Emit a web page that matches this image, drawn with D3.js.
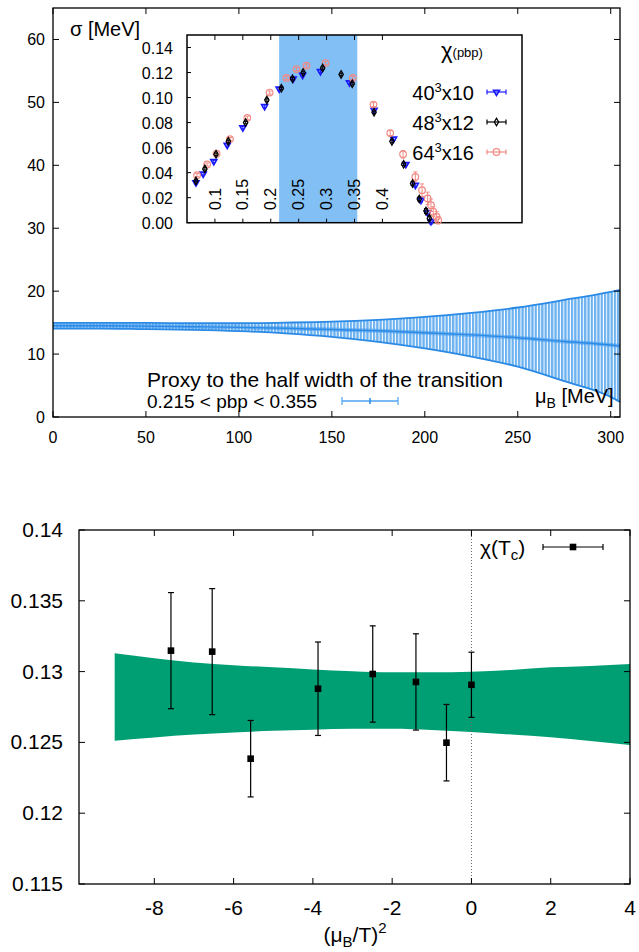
<!DOCTYPE html>
<html><head><meta charset="utf-8">
<script src="https://cdn.jsdelivr.net/npm/d3@7"></script>
<style>
body{margin:0;background:#fff}
svg{display:block}
text{font-family:"Liberation Sans",Arial,Helvetica,sans-serif;fill:#000}
</style>
</head><body>
<svg id="c" width="639" height="952"></svg>
<script>
// ---------- Top panel: sigma vs muB band ----------
const muB        = [0, 25, 50, 75, 100, 125, 150, 175, 200, 225, 250, 275, 300, 305];
const sigmaCenter= [14.5, 14.5, 14.45, 14.35, 14.25, 14.1, 13.9, 13.7, 13.4, 13.05, 12.6, 12.0, 11.45, 11.3];
const sigmaUpper = [14.95, 14.95, 14.95, 14.9, 14.9, 15.0, 15.15, 15.45, 15.9, 16.55, 17.4, 18.6, 19.9, 20.2];
const sigmaLower = [14.05, 14.05, 13.95, 13.85, 13.65, 13.3, 12.75, 11.95, 10.9, 9.6, 8.0, 5.7, 3.2, 2.4];
const mainXTicks = [0, 50, 100, 150, 200, 250, 300];
const mainYTicks = [0, 10, 20, 30, 40, 50, 60];

// ---------- Inset: chi(pbp) ----------
const insetXTicks = [0.1, 0.15, 0.2, 0.25, 0.3, 0.35, 0.4];
const insetXTickLabels = ["0.1", "0.15", "0.2", "0.25", "0.3", "0.35", "0.4"];
const insetYTicks = [0, 0.02, 0.04, 0.06, 0.08, 0.10, 0.12, 0.14];
const proxyRange = [0.215, 0.355];

const s40x = [0.066, 0.079, 0.098, 0.122, 0.150, 0.189, 0.215, 0.240, 0.257, 0.289, 0.341, 0.385, 0.420, 0.442, 0.459, 0.469, 0.481, 0.487];
const s40y = [0.032, 0.039, 0.049, 0.062, 0.076, 0.093, 0.107, 0.115, 0.118, 0.121, 0.112, 0.090, 0.067, 0.0467, 0.030, 0.018, 0.008, 0.001];
const s40e = [0.001, 0.001, 0.001, 0.001, 0.001, 0.001, 0.001, 0.001, 0.001, 0.001, 0.001, 0.001, 0.001, 0.001, 0.0015, 0.0015, 0.002, 0.002];

const s48x = [0.066, 0.082, 0.102, 0.124, 0.155, 0.193, 0.219, 0.239, 0.258, 0.293, 0.326, 0.346, 0.385, 0.417, 0.438, 0.454, 0.466, 0.478, 0.484];
const s48y = [0.0334, 0.043, 0.0547, 0.065, 0.080, 0.098, 0.1074, 0.115, 0.120, 0.1236, 0.1185, 0.111, 0.0883, 0.065, 0.0467, 0.0313, 0.0189, 0.0093, 0.0035];
const s48e = [0.001, 0.001, 0.001, 0.001, 0.001, 0.001, 0.001, 0.001, 0.001, 0.001, 0.001, 0.001, 0.001, 0.001, 0.001, 0.0015, 0.0015, 0.002, 0.002];

const s64x = [0.068, 0.086, 0.103, 0.127, 0.158, 0.198, 0.228, 0.246, 0.264, 0.298, 0.347, 0.384, 0.414, 0.437, 0.459, 0.471, 0.481, 0.487, 0.491, 0.497, 0.500];
const s64y = [0.038, 0.0465, 0.0552, 0.0668, 0.0838, 0.104, 0.1157, 0.1228, 0.1255, 0.1276, 0.1157, 0.0944, 0.0716, 0.0547, 0.0366, 0.026, 0.0194, 0.014, 0.0088, 0.0048, 0.002];
const s64e = [0.0012, 0.0012, 0.0012, 0.0012, 0.0012, 0.0012, 0.0012, 0.0012, 0.0012, 0.0012, 0.0012, 0.0015, 0.002, 0.003, 0.004, 0.005, 0.005, 0.005, 0.004, 0.004, 0.003];

// ---------- Bottom panel: chi(Tc) vs (muB/T)^2 ----------
const chiX   = [-7.58, -6.54, -5.57, -3.87, -2.49, -1.40, -0.63, 0.0];
const chiY   = [0.13148, 0.13141, 0.12385, 0.12879, 0.12983, 0.12927, 0.12498, 0.12907];
const chiErr = [0.0041, 0.00445, 0.0027, 0.0033, 0.0034, 0.0034, 0.0027, 0.0023];
const bandX     = [-9, -8, -7, -6, -5, -4, -3, -2, -1, 0, 1, 2, 3, 4];
const bandUpper = [0.13129, 0.13095, 0.13065, 0.13045, 0.1303, 0.13015, 0.13003, 0.12995, 0.12995, 0.12999, 0.13012, 0.1303, 0.1304, 0.13054];
const bandLower = [0.12512, 0.12535, 0.12555, 0.1257, 0.12582, 0.1259, 0.12597, 0.12597, 0.12588, 0.12573, 0.12556, 0.12536, 0.1251, 0.12482];
const botXTicks = [-8, -6, -4, -2, 0, 2, 4];
const botYTicks = [0.115, 0.12, 0.125, 0.13, 0.135, 0.14];

const svg = d3.select("#c");
const defs = svg.append("defs");
const pat = defs.append("pattern").attr("id","stripes").attr("patternUnits","userSpaceOnUse")
  .attr("width",3.3).attr("height",10);
pat.append("rect").attr("width",3.3).attr("height",10).attr("fill","#ffffff");
pat.append("rect").attr("width",2.3).attr("height",10).attr("fill","#6cb2f0");

function frame(g, x0, y0, x1, y1, sw){
  g.append("rect").attr("x",x0).attr("y",y0).attr("width",x1-x0).attr("height",y1-y0)
   .attr("fill","none").attr("stroke","#000").attr("stroke-width",sw||1.3);
}
function ticks(g, xs, ys, xt, yt, len, mirror){
  const [x0,x1]=xs.range(), [y0,y1]=ys.range();
  xt.forEach(t=>{
    const px=xs(t);
    g.append("line").attr("x1",px).attr("x2",px).attr("y1",y0).attr("y2",y0-len).attr("stroke","#000");
    if(mirror) g.append("line").attr("x1",px).attr("x2",px).attr("y1",y1).attr("y2",y1+len).attr("stroke","#000");
  });
  yt.forEach(t=>{
    const py=ys(t);
    g.append("line").attr("x1",x0).attr("x2",x0+len).attr("y1",py).attr("y2",py).attr("stroke","#000");
    if(mirror) g.append("line").attr("x1",x1).attr("x2",x1-len).attr("y1",py).attr("y2",py).attr("stroke","#000");
  });
}

// ===== TOP PANEL =====
const topG = svg.append("g");
const xM = d3.scaleLinear().domain([0,305]).range([53,620]);
const yM = d3.scaleLinear().domain([0,65]).range([417,8]);
const bandIdx = d3.range(muB.length);
const area = d3.area().x(i=>xM(muB[i])).y0(i=>yM(sigmaLower[i])).y1(i=>yM(sigmaUpper[i])).curve(d3.curveMonotoneX);
topG.append("path").attr("d",area(bandIdx)).attr("fill","url(#stripes)");
const lineOf = arr => d3.line().x(i=>xM(muB[i])).y(i=>yM(arr[i])).curve(d3.curveMonotoneX)(bandIdx);
topG.append("path").attr("d",lineOf(sigmaUpper)).attr("fill","none").attr("stroke","#2a8ae6").attr("stroke-width",1.8);
topG.append("path").attr("d",lineOf(sigmaLower)).attr("fill","none").attr("stroke","#2a8ae6").attr("stroke-width",1.8);
topG.append("path").attr("d",lineOf(sigmaCenter)).attr("fill","none").attr("stroke","#4b9fee").attr("stroke-width",4).attr("opacity",0.6);
topG.append("path").attr("d",lineOf(sigmaCenter)).attr("fill","none").attr("stroke","#2a8ae6").attr("stroke-width",1.4);

ticks(topG, xM, yM, mainXTicks, mainYTicks, 6, true);
frame(topG, 53, 8, 620, 417);
mainXTicks.forEach(t=>topG.append("text").attr("x",xM(t)).attr("y",443).attr("text-anchor","middle").attr("font-size",16).text(t));
mainYTicks.forEach(t=>topG.append("text").attr("x",45).attr("y",yM(t)+6).attr("text-anchor","end").attr("font-size",16).text(t));

topG.append("text").attr("x",70).attr("y",36).attr("font-size",20).text("σ [MeV]");
const mul = topG.append("text").attr("x",535).attr("y",403).attr("font-size",20);
mul.append("tspan").text("μ");
mul.append("tspan").attr("font-size",14).attr("dy",5).text("B");
mul.append("tspan").attr("dy",-5).text(" [MeV]");

topG.append("text").attr("x",147).attr("y",387).attr("font-size",21).text("Proxy to the half width of the transition");
topG.append("text").attr("x",147).attr("y",408).attr("font-size",19).text("0.215 < pbp < 0.355");
const lgc="#4fa3ee";
topG.append("line").attr("x1",342).attr("x2",398).attr("y1",401).attr("y2",401).attr("stroke",lgc).attr("stroke-width",1.5);
[342,398].forEach(x=>topG.append("line").attr("x1",x).attr("x2",x).attr("y1",397).attr("y2",405).attr("stroke",lgc).attr("stroke-width",1.2));
topG.append("line").attr("x1",370).attr("x2",370).attr("y1",398).attr("y2",404).attr("stroke","#2a8ae6").attr("stroke-width",1.5);

// ===== INSET =====
const ins = svg.append("g");
const xI = d3.scaleLinear().domain([0.05,0.65]).range([187,522]);
const yI = d3.scaleLinear().domain([0,0.15]).range([222.7,35]);
ins.append("rect").attr("x",187).attr("y",35).attr("width",335).attr("height",187.7).attr("fill","#fff");
ins.append("rect").attr("x",xI(proxyRange[0])).attr("y",35).attr("width",xI(proxyRange[1])-xI(proxyRange[0])).attr("height",187.7).attr("fill","#82bff5");
ticks(ins, xI, yI, insetXTicks, insetYTicks, 4, false);
insetXTicks.forEach(t=>ins.append("line").attr("x1",xI(t)).attr("x2",xI(t)).attr("y1",35).attr("y2",40).attr("stroke","#000"));
frame(ins, 187, 35, 522, 222.7, 1.5);
insetYTicks.forEach(t=>ins.append("text").attr("x",173).attr("y",yI(t)+6).attr("text-anchor","end").attr("font-size",16).text(d3.format(".2f")(t)));
insetXTicks.forEach((t,i)=>ins.append("text").attr("transform",`translate(${xI(t)},210) rotate(-90)`)
  .attr("dy","0.35em").attr("font-size",16).text(insetXTickLabels[i]));

function series(xs, ys, es, color, shape){
  const g = ins.append("g");
  xs.forEach((x,i)=>{
    const px=xI(x), py=yI(ys[i]), e=Math.max(yI(ys[i]-es[i]) - py, 1.2);
    g.append("line").attr("x1",px).attr("x2",px).attr("y1",py-e).attr("y2",py+e).attr("stroke",color).attr("stroke-width",1);
    [py-e,py+e].forEach(yy=>g.append("line").attr("x1",px-2).attr("x2",px+2).attr("y1",yy).attr("y2",yy).attr("stroke",color).attr("stroke-width",1));
    drawMarker(g, px, py, color, shape);
  });
}
function drawMarker(g, px, py, color, shape){
  if(shape==="tri"){
    g.append("path").attr("d",d3.symbol(d3.symbolTriangle,16)()).attr("transform",`translate(${px},${py}) rotate(180)`)
     .attr("fill","none").attr("stroke",color).attr("stroke-width",1.6);
  } else if(shape==="dia"){
    g.append("path").attr("d",d3.symbol(d3.symbolDiamond,16)()).attr("transform",`translate(${px},${py})`)
     .attr("fill","none").attr("stroke",color).attr("stroke-width",1.3);
  } else {
    g.append("circle").attr("cx",px).attr("cy",py).attr("r",3.3).attr("fill","none").attr("stroke",color).attr("stroke-width",1.2);
  }
}
series(s40x, s40y, s40e, "#1a1aff", "tri");
series(s64x, s64y, s64e, "#f28a84", "circ");
series(s48x, s48y, s48e, "#000000", "dia");

// inset legend
const chiT = ins.append("text").attr("x",441).attr("y",58);
chiT.append("tspan").attr("font-size",22).text("χ");
chiT.append("tspan").attr("font-size",13).attr("dy",-1).text("(pbp)");
const legItems = [["40","x10","#1a1aff","tri",92],["48","x12","#000000","dia",122],["64","x16","#f28a84","circ",152]];
legItems.forEach(([a,b,col,sh,yy])=>{
  const t = ins.append("text").attr("x",474).attr("y",yy+8).attr("text-anchor","end").attr("font-size",20);
  t.append("tspan").text(a);
  t.append("tspan").attr("font-size",13).attr("dy",-8).text("3");
  t.append("tspan").attr("dy",8).text(b);
  ins.append("line").attr("x1",487).attr("x2",506).attr("y1",yy).attr("y2",yy).attr("stroke",col).attr("stroke-width",1.2);
  [487,506].forEach(x=>ins.append("line").attr("x1",x).attr("x2",x).attr("y1",yy-2.5).attr("y2",yy+2.5).attr("stroke",col).attr("stroke-width",1.2));
  drawMarker(ins, 496.5, yy, col, sh);
});

// ===== BOTTOM PANEL =====
const bot = svg.append("g");
const xB = d3.scaleLinear().domain([-9.9,4]).range([79,630]);
const yB = d3.scaleLinear().domain([0.115,0.14]).range([884,530]);
const bIdx = d3.range(bandX.length);
bot.append("path").attr("d", d3.area().x(i=>xB(bandX[i])).y0(i=>yB(bandLower[i])).y1(i=>yB(bandUpper[i])).curve(d3.curveMonotoneX)(bIdx))
  .attr("fill","#009e73");
bot.append("line").attr("x1",xB(0)).attr("x2",xB(0)).attr("y1",530).attr("y2",884)
  .attr("stroke","#666").attr("stroke-width",1).attr("stroke-dasharray","1,2");
chiX.forEach((x,i)=>{
  const px=xB(x), y1=yB(chiY[i]+chiErr[i]), y2=yB(chiY[i]-chiErr[i]);
  bot.append("line").attr("x1",px).attr("x2",px).attr("y1",y1).attr("y2",y2).attr("stroke","#000").attr("stroke-width",1.2);
  [y1,y2].forEach(yy=>bot.append("line").attr("x1",px-3).attr("x2",px+3).attr("y1",yy).attr("y2",yy).attr("stroke","#000").attr("stroke-width",1.2));
  bot.append("rect").attr("x",px-3.3).attr("y",yB(chiY[i])-3.3).attr("width",6.6).attr("height",6.6).attr("fill","#000");
});
ticks(bot, xB, yB, botXTicks, botYTicks, 6, true);
frame(bot, 79, 530, 630, 884, 1.3);
botXTicks.forEach(t=>bot.append("text").attr("x",xB(t)).attr("y",915).attr("text-anchor","middle").attr("font-size",21).text(t));
botYTicks.forEach(t=>bot.append("text").attr("x",63).attr("y",yB(t)+7).attr("text-anchor","end").attr("font-size",21).text(t));
const xl = bot.append("text").attr("x",355).attr("y",942).attr("text-anchor","middle").attr("font-size",21);
xl.append("tspan").text("(μ");
xl.append("tspan").attr("font-size",15).attr("dy",5).text("B");
xl.append("tspan").attr("dy",-5).text("/T)");
xl.append("tspan").attr("font-size",15).attr("dy",-9).text("2");
const lg = bot.append("text").attr("x",480).attr("y",555).attr("font-size",21);
lg.append("tspan").text("χ(T");
lg.append("tspan").attr("font-size",15).attr("dy",5).text("c");
lg.append("tspan").attr("dy",-5).text(")");
bot.append("line").attr("x1",543).attr("x2",603).attr("y1",547).attr("y2",547).attr("stroke","#000").attr("stroke-width",1.2);
[543,603].forEach(x=>bot.append("line").attr("x1",x).attr("x2",x).attr("y1",544).attr("y2",550).attr("stroke","#000").attr("stroke-width",1.2));
bot.append("rect").attr("x",573-3.3).attr("y",547-3.3).attr("width",6.6).attr("height",6.6).attr("fill","#000");
</script>
</body></html>
